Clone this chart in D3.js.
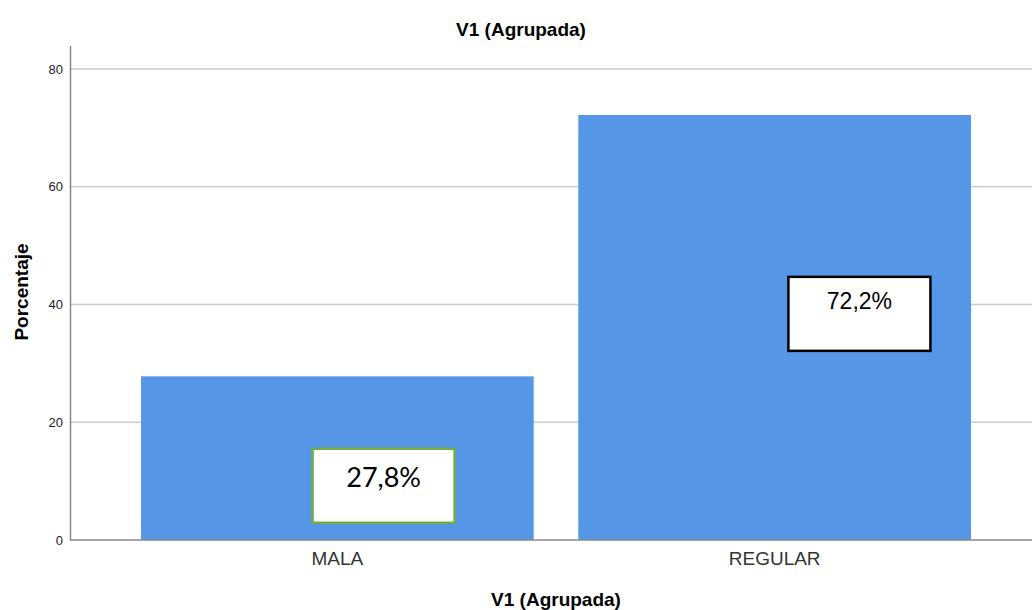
<!DOCTYPE html>
<html>
<head>
<meta charset="utf-8">
<script src="https://cdn.jsdelivr.net/npm/d3@7"></script>
<style>
  body { margin: 0; background: #fff; }
  svg { display: block; font-family: "Liberation Sans", Arial, sans-serif; }
</style>
</head>
<body>
<div id="chart"></div>
<script>
// data
var categories = ["MALA", "REGULAR"];
var percents = [27.8, 72.2];
var labels = ["27,8%", "72,2%"];
var yTicks = [0, 20, 40, 60, 80];

var width = 1032, height = 610;

var svg = d3.select("#chart").append("svg")
    .attr("width", width)
    .attr("height", height);

var x = d3.scaleBand()
    .domain(categories)
    .range([70, 1042])
    .paddingInner(0.102)
    .paddingOuter(0.1623);

var y = d3.scaleLinear()
    .domain([0, 84])
    .range([540, 45.5]);

// gridlines
svg.append("g")
    .selectAll("line")
    .data(yTicks.slice(1))
    .enter().append("line")
        .attr("x1", 70)
        .attr("x2", width)
        .attr("y1", function(d) { return y(d); })
        .attr("y2", function(d) { return y(d); })
        .attr("stroke", "#cccccc")
        .attr("stroke-width", 1.5);

// bars
svg.append("g")
    .selectAll("rect")
    .data(percents)
    .enter().append("rect")
        .attr("x", function(d, i) { return x(categories[i]); })
        .attr("y", function(d) { return y(d); })
        .attr("width", x.bandwidth())
        .attr("height", function(d) { return y(0) - y(d); })
        .attr("fill", "#5596e6");

// y axis
var yAxis = svg.append("g")
    .attr("transform", "translate(70,0)")
    .call(d3.axisLeft(y).tickValues(yTicks).tickSize(0).tickPadding(7));
yAxis.select(".domain").attr("stroke", "#888888").attr("stroke-width", 1.5);
yAxis.selectAll("text").attr("font-size", 13).attr("fill", "#222");

// x axis
var xAxis = svg.append("g")
    .attr("transform", "translate(0,540)")
    .call(d3.axisBottom(x).tickSize(0).tickPadding(12));
xAxis.select(".domain").attr("d", "M70,0H" + width).attr("stroke", "#888888").attr("stroke-width", 1.5);
xAxis.selectAll("text").attr("font-size", 19).attr("fill", "#333");

// titles
svg.append("text")
    .attr("x", 521).attr("y", 36)
    .attr("text-anchor", "middle")
    .attr("font-size", 19).attr("font-weight", "bold")
    .text("V1 (Agrupada)");

svg.append("text")
    .attr("x", 556).attr("y", 606)
    .attr("text-anchor", "middle")
    .attr("font-size", 19).attr("font-weight", "bold")
    .text("V1 (Agrupada)");

svg.append("text")
    .attr("transform", "translate(28,292) rotate(-90)")
    .attr("text-anchor", "middle")
    .attr("font-size", 19).attr("font-weight", "bold")
    .text("Porcentaje");

// label boxes
var boxStyle = [
    { dx: 0.437, top: 15.5, stroke: "#70ad47", font: "Lato, 'Open Sans', sans-serif", size: 27, base: 38 },
    { dx: 0.535, top: 44.7, stroke: "#000000", font: "'Liberation Sans', Arial, sans-serif", size: 23, base: 32 }
];
var boxW = 142, boxH = 74;

var boxes = svg.append("g")
    .selectAll("g")
    .data(labels)
    .enter().append("g")
        .attr("transform", function(d, i) {
            var bx = x(categories[i]) + x.bandwidth() * boxStyle[i].dx;
            return "translate(" + bx + "," + y(boxStyle[i].top) + ")";
        });

boxes.append("rect")
    .attr("width", boxW)
    .attr("height", boxH)
    .attr("fill", "#ffffff")
    .attr("stroke", function(d, i) { return boxStyle[i].stroke; })
    .attr("stroke-width", 2.5);

boxes.append("text")
    .attr("x", boxW / 2)
    .attr("y", function(d, i) { return boxStyle[i].base; })
    .attr("text-anchor", "middle")
    .attr("font-size", function(d, i) { return boxStyle[i].size; })
    .attr("font-family", function(d, i) { return boxStyle[i].font; })
    .attr("fill", "#000")
    .text(function(d) { return d; });
</script>
</body>
</html>
